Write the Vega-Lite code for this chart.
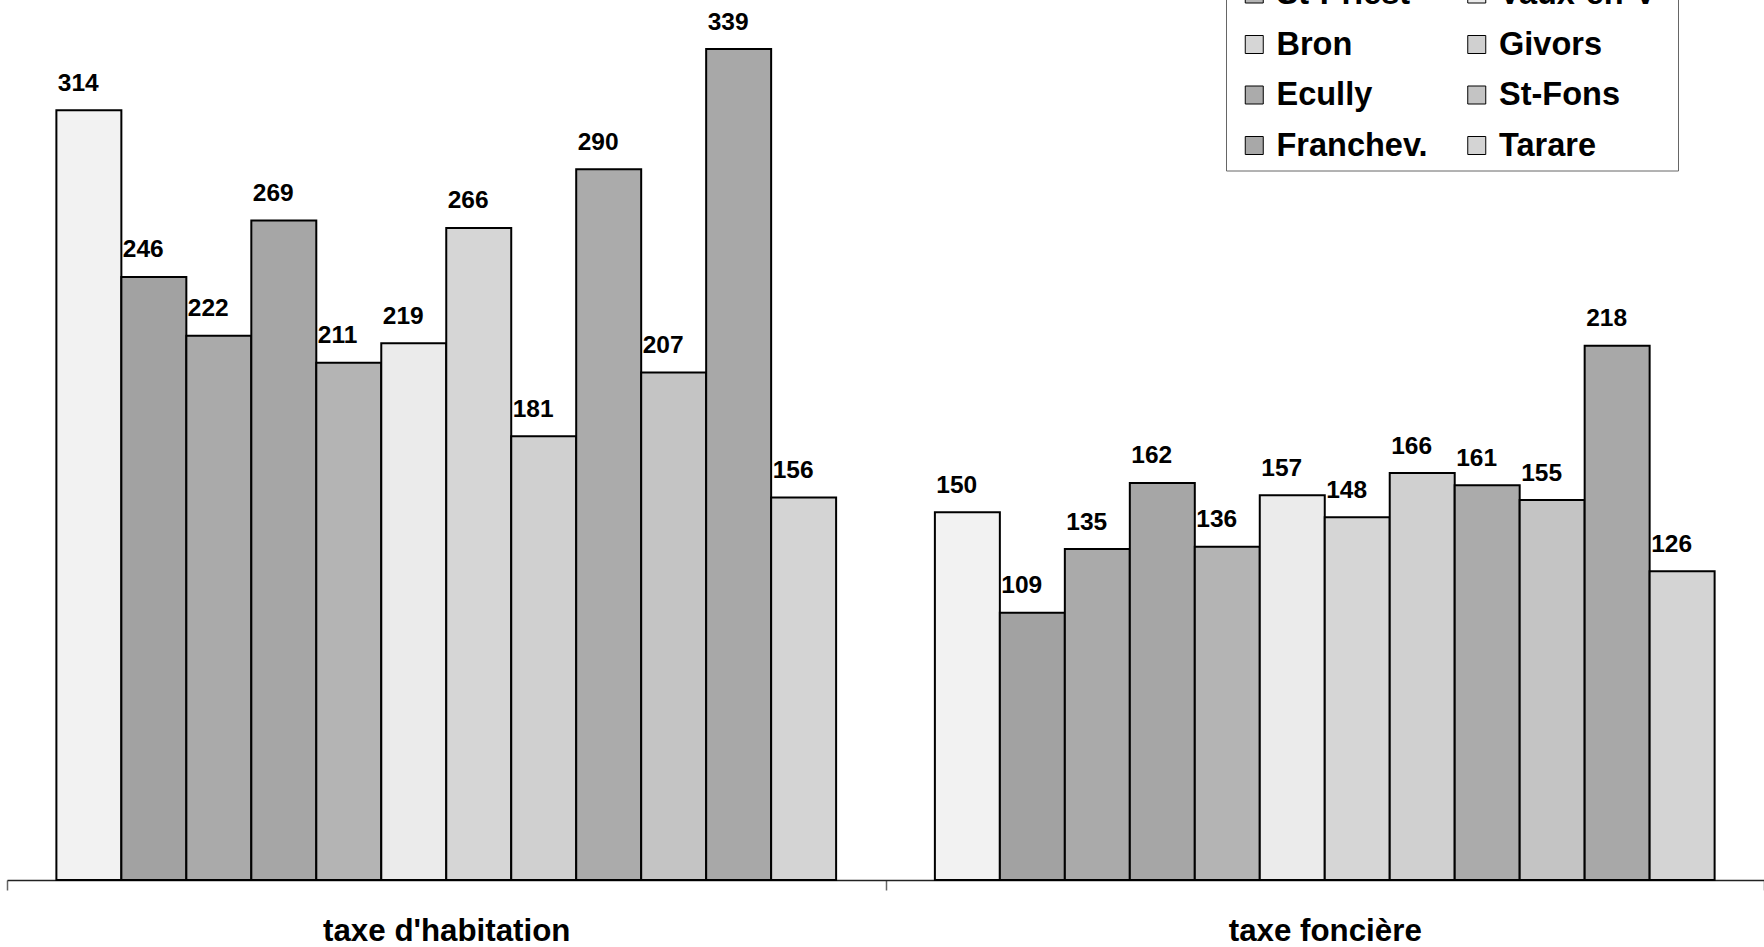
{
  "$schema": "https://vega.github.io/schema/vega-lite/v6.json",
  "autosize": {"type": "none"},
  "padding": {"left": 7, "top": 0, "right": 0, "bottom": 67},
  "width": 1757,
  "height": 880,
  "background": "white",
  "config": {"view": {"stroke": null}},
  "data": {
    "values": [
      {"taxe": "taxe d'habitation", "commune": "Lyon", "valeur": 314},
      {"taxe": "taxe d'habitation", "commune": "Villeurb.", "valeur": 246},
      {"taxe": "taxe d'habitation", "commune": "Caluire", "valeur": 222},
      {"taxe": "taxe d'habitation", "commune": "Vénissieux", "valeur": 269},
      {"taxe": "taxe d'habitation", "commune": "St-Priest", "valeur": 211},
      {"taxe": "taxe d'habitation", "commune": "Vaux-en-V", "valeur": 219},
      {"taxe": "taxe d'habitation", "commune": "Bron", "valeur": 266},
      {"taxe": "taxe d'habitation", "commune": "Givors", "valeur": 181},
      {"taxe": "taxe d'habitation", "commune": "Ecully", "valeur": 290},
      {"taxe": "taxe d'habitation", "commune": "St-Fons", "valeur": 207},
      {"taxe": "taxe d'habitation", "commune": "Franchev.", "valeur": 339},
      {"taxe": "taxe d'habitation", "commune": "Tarare", "valeur": 156},
      {"taxe": "taxe foncière", "commune": "Lyon", "valeur": 150},
      {"taxe": "taxe foncière", "commune": "Villeurb.", "valeur": 109},
      {"taxe": "taxe foncière", "commune": "Caluire", "valeur": 135},
      {"taxe": "taxe foncière", "commune": "Vénissieux", "valeur": 162},
      {"taxe": "taxe foncière", "commune": "St-Priest", "valeur": 136},
      {"taxe": "taxe foncière", "commune": "Vaux-en-V", "valeur": 157},
      {"taxe": "taxe foncière", "commune": "Bron", "valeur": 148},
      {"taxe": "taxe foncière", "commune": "Givors", "valeur": 166},
      {"taxe": "taxe foncière", "commune": "Ecully", "valeur": 161},
      {"taxe": "taxe foncière", "commune": "St-Fons", "valeur": 155},
      {"taxe": "taxe foncière", "commune": "Franchev.", "valeur": 218},
      {"taxe": "taxe foncière", "commune": "Tarare", "valeur": 126}
    ]
  },
  "encoding": {
    "x": {
      "field": "taxe",
      "type": "nominal",
      "sort": ["taxe d'habitation", "taxe foncière"],
      "scale": {"paddingInner": 0, "paddingOuter": 0},
      "axis": {
        "title": null,
        "labelAngle": 0,
        "labelFont": "Liberation Sans",
        "labelFontSize": 31.3,
        "labelFontWeight": "bold",
        "labelColor": "black",
        "labelLimit": 0,
        "labelPadding": 25,
        "tickSize": 10,
        "tickBand": "extent",
        "tickColor": "#666666",
        "tickWidth": 1.5,
        "domainColor": "#222222",
        "domainWidth": 1.5
      }
    },
    "xOffset": {
      "field": "commune",
      "type": "nominal",
      "sort": ["Lyon", "Villeurb.", "Caluire", "Vénissieux", "St-Priest", "Vaux-en-V", "Bron", "Givors", "Ecully", "St-Fons", "Franchev.", "Tarare"],
      "scale": {"paddingInner": 0, "paddingOuter": 0.76}
    },
    "y": {
      "field": "valeur",
      "type": "quantitative",
      "scale": {"domain": [0, 359], "nice": false},
      "axis": null
    }
  },
  "layer": [
    {
      "mark": {"type": "bar", "stroke": "black", "strokeWidth": 2, "opacity": 1},
      "encoding": {
        "color": {
          "field": "commune",
          "type": "nominal",
          "sort": ["Lyon", "Villeurb.", "Caluire", "Vénissieux", "St-Priest", "Vaux-en-V", "Bron", "Givors", "Ecully", "St-Fons", "Franchev.", "Tarare"],
          "scale": {"range": ["#f2f2f2", "#a2a2a2", "#aaaaaa", "#a6a6a6", "#b4b4b4", "#ebebeb", "#d6d6d6", "#d0d0d0", "#ababab", "#c4c4c4", "#a8a8a8", "#d4d4d4"]},
          "legend": {
            "title": null,
            "orient": "none",
            "legendX": 1219,
            "legendY": -131.5,
            "columns": 2,
            "direction": "horizontal",
            "padding": 8.25,
            "symbolOffset": 3.75,
            "rowPadding": 17.5,
            "columnPadding": 28.5,
            "symbolType": "square",
            "symbolSize": 324,
            "symbolStrokeColor": "black",
            "symbolStrokeWidth": 1,
            "symbolOpacity": 1,
            "labelFont": "Liberation Sans",
            "labelFontSize": 32.5,
            "labelFontWeight": "bold",
            "labelColor": "black",
            "labelOffset": 6,
            "labelLimit": 400,
            "strokeColor": "#666666",
            "fillColor": "white"
          }
        }
      }
    },
    {
      "mark": {
        "type": "text",
        "align": "left",
        "baseline": "alphabetic",
        "dx": -31,
        "dy": -19.5,
        "font": "Liberation Sans",
        "fontSize": 24.5,
        "fontWeight": "bold",
        "color": "black"
      },
      "encoding": {
        "text": {"field": "valeur", "type": "quantitative"}
      }
    }
  ]
}
